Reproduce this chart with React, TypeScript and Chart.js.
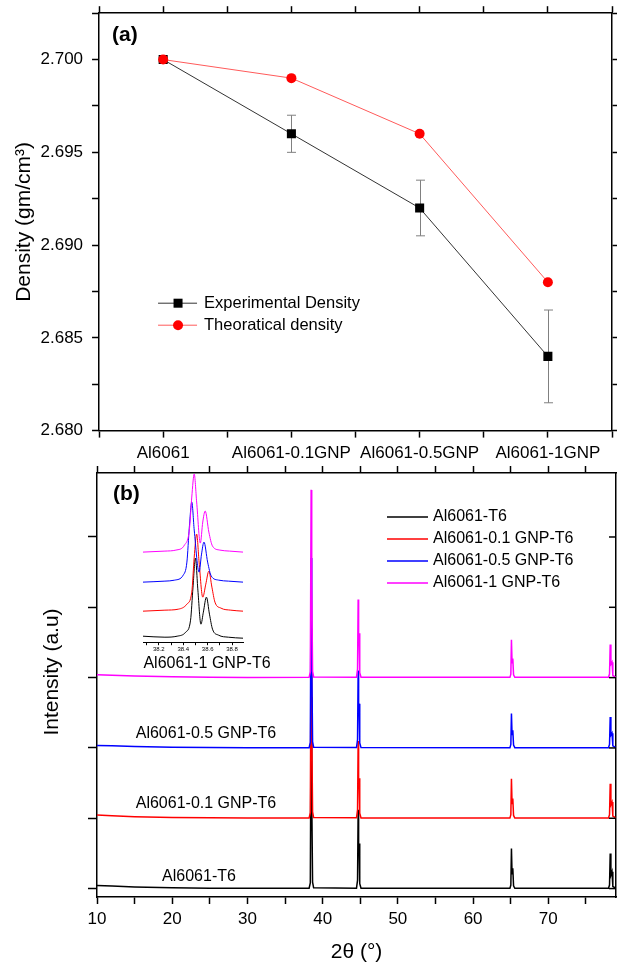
import React, { useEffect, useRef } from 'react';
import { Chart, registerables } from 'chart.js';

Chart.register(...registerables);

const FONT = "'Liberation Sans', Arial, Helvetica, sans-serif";

// ---------- Panel (a): density ----------
const categories = ['Al6061', 'Al6061-0.1GNP', 'Al6061-0.5GNP', 'Al6061-1GNP'];
const experimentalDensity = [2.7, 2.696, 2.692, 2.684];
const experimentalError = [0, 0.001, 0.0015, 0.0025];
const theoreticalDensity = [2.7, 2.699, 2.696, 2.688];
const densityTickLabels = ['2.680', '2.685', '2.690', '2.695', '2.700'];

// ---------- Panel (b): XRD ----------
const xrdSeriesNames = ['Al6061-T6', 'Al6061-0.1 GNP-T6', 'Al6061-0.5 GNP-T6', 'Al6061-1 GNP-T6'];
const xrdColors = ['#000000', '#ff0000', '#0000ff', '#ff00ff'];
const twoTheta = [10, 12, 15, 20, 25, 30, 38.2, 38.36, 38.47, 38.52, 38.57, 38.66, 38.8, 44.5, 44.64, 44.72, 44.78, 44.84, 44.93, 45.1, 64.9, 65.02, 65.1, 65.18, 65.28, 65.38, 65.55, 78.0, 78.14, 78.23, 78.32, 78.47, 78.58, 79];
const intensityT6 = [0.045, 0.035, 0.022, 0.012, 0.006, 0.003, 0.004, 0.08, 2.72, 1.15, 1.35, 0.09, 0.01, 0.006, 0.12, 1.12, 0.5, 0.64, 0.07, 0.005, 0.004, 0.05, 0.57, 0.21, 0.29, 0.04, 0.004, 0.004, 0.05, 0.5, 0.19, 0.24, 0.03, 0.004];
const intensity01 = [1.045, 1.035, 1.022, 1.012, 1.006, 1.003, 1.004, 1.08, 3.7, 2.15, 2.35, 1.09, 1.01, 1.006, 1.12, 2.1, 1.5, 1.57, 1.07, 1.005, 1.004, 1.05, 1.56, 1.21, 1.28, 1.04, 1.004, 1.004, 1.05, 1.49, 1.19, 1.23, 1.03, 1.004];
const intensity05 = [2.035, 2.03, 2.02, 2.01, 2.006, 2.003, 2.004, 2.08, 4.7, 3.15, 3.35, 2.09, 2.01, 2.006, 2.12, 3.1, 2.5, 2.63, 2.07, 2.005, 2.004, 2.05, 2.49, 2.19, 2.25, 2.04, 2.004, 2.004, 2.05, 2.44, 2.18, 2.21, 2.03, 2.004];
const intensity1 = [3.04, 3.033, 3.022, 3.012, 3.006, 3.003, 3.004, 3.08, 5.67, 4.15, 4.35, 3.09, 3.01, 3.006, 3.12, 4.11, 3.5, 3.63, 3.07, 3.005, 3.004, 3.05, 3.54, 3.21, 3.27, 3.04, 3.004, 3.004, 3.05, 3.47, 3.19, 3.22, 3.03, 3.004];
const twoThetaTickLabels = ['10', '20', '30', '40', '50', '60', '70'];

// ---------- Inset ----------
const insetThetaT6 = [38.07, 38.25, 38.35, 38.42, 38.46, 38.48, 38.5, 38.52, 38.545, 38.565, 38.59, 38.615, 38.64, 38.69, 38.77, 38.89];
const insetT6 = [6, 5, 6, 10, 22, 55, 84, 52, 18, 30, 45, 28, 13, 7, 5, 4];
const insetTheta01 = [38.07, 38.25, 38.36, 38.43, 38.47, 38.49, 38.51, 38.53, 38.56, 38.585, 38.61, 38.635, 38.66, 38.71, 38.79, 38.89];
const inset01 = [31, 32, 33, 38, 50, 85, 108, 80, 45, 58, 71, 55, 40, 34, 32, 31];
const insetTheta05 = [38.07, 38.25, 38.33, 38.4, 38.43, 38.45, 38.47, 38.49, 38.53, 38.55, 38.57, 38.6, 38.63, 38.69, 38.77, 38.89];
const inset05 = [60, 61, 62, 67, 80, 115, 140, 112, 70, 88, 100, 80, 66, 62, 61, 60];
const insetTheta1 = [38.07, 38.25, 38.34, 38.41, 38.45, 38.47, 38.49, 38.51, 38.54, 38.56, 38.58, 38.61, 38.64, 38.7, 38.78, 38.89];
const inset1 = [90, 91, 92, 97, 112, 145, 168, 140, 99, 120, 131, 110, 96, 92, 91, 90];
const insetTickLabels = ['38.2', '38.4', '38.6', '38.8'];

const pair = (xs: number[], ys: number[]) => xs.map((x, i) => ({ x, y: ys[i] }));

const axisGrid = (len: number, w = 1.5) => ({
  display: true,
  drawOnChartArea: false,
  drawTicks: true,
  tickLength: len,
  tickWidth: w,
  tickColor: '#000',
  color: '#000',
});
const axisBorder = (w = 1.5) => ({ display: true, color: '#000', width: w });

const panelAPlugin = {
  id: 'panelA',
  beforeDatasetsDraw(chart: any) {
    const { ctx, scales } = chart;
    const x = scales.x, y = scales.y;
    ctx.save();
    ctx.strokeStyle = '#808080';
    ctx.lineWidth = 1;
    experimentalDensity.forEach((v, i) => {
      const e = experimentalError[i];
      if (!e) return;
      const px = Math.round(x.getPixelForValue(i)) + 0.5;
      const top = y.getPixelForValue(v + e);
      const bot = y.getPixelForValue(v - e);
      ctx.beginPath();
      ctx.moveTo(px, top); ctx.lineTo(px, bot);
      ctx.moveTo(px - 4.5, top); ctx.lineTo(px + 4.5, top);
      ctx.moveTo(px - 4.5, bot); ctx.lineTo(px + 4.5, bot);
      ctx.stroke();
    });
    ctx.restore();
  },
  afterDraw(chart: any) {
    const { ctx, chartArea: ca } = chart;
    ctx.save();
    ctx.fillStyle = '#000';
    ctx.textBaseline = 'middle';
    ctx.font = `bold 21px ${FONT}`;
    ctx.fillText('(a)', ca.left + 13, ca.top + 22);
    // legend
    const lx0 = ca.left + 59, lx1 = ca.left + 98, mx = ca.left + 79, tx = ca.left + 105;
    const y1 = ca.top + 290, y2 = ca.top + 312;
    ctx.lineWidth = 1;
    ctx.strokeStyle = '#333';
    ctx.beginPath(); ctx.moveTo(lx0, y1); ctx.lineTo(lx1, y1); ctx.stroke();
    ctx.fillStyle = '#000';
    ctx.fillRect(mx - 4.5, y1 - 4.5, 9, 9);
    ctx.strokeStyle = '#ff5a5a';
    ctx.beginPath(); ctx.moveTo(lx0, y2); ctx.lineTo(lx1, y2); ctx.stroke();
    ctx.fillStyle = '#ff0000';
    ctx.beginPath(); ctx.arc(mx, y2, 5, 0, Math.PI * 2); ctx.fill();
    ctx.fillStyle = '#000';
    ctx.font = `16.5px ${FONT}`;
    ctx.fillText('Experimental Density', tx, y1);
    ctx.fillText('Theoratical density', tx, y2);
    ctx.restore();
  },
};

const panelBPlugin = {
  id: 'panelB',
  afterDraw(chart: any) {
    const { ctx, chartArea: ca, scales } = chart;
    const y = scales.y;
    ctx.save();
    // inward ticks on the right axis
    ctx.strokeStyle = '#000';
    ctx.lineWidth = 1.5;
    y.ticks.forEach((t: any) => {
      const py = y.getPixelForValue(t.value);
      ctx.beginPath(); ctx.moveTo(ca.right, py); ctx.lineTo(ca.right - 7, py); ctx.stroke();
    });
    ctx.fillStyle = '#000';
    ctx.textBaseline = 'middle';
    ctx.font = `bold 21px ${FONT}`;
    ctx.fillText('(b)', ca.left + 16, ca.top + 21);
    // legend
    ctx.font = `16px ${FONT}`;
    xrdSeriesNames.forEach((name, i) => {
      const ly = ca.top + 44 + i * 22;
      ctx.strokeStyle = xrdColors[i];
      ctx.lineWidth = 1.5;
      ctx.beginPath(); ctx.moveTo(ca.left + 290, ly); ctx.lineTo(ca.left + 331, ly); ctx.stroke();
      ctx.fillStyle = '#000';
      ctx.textAlign = 'left';
      ctx.fillText(name, ca.left + 336, ly);
    });
    // curve labels
    const labelX = [ca.left + 102, ca.left + 109, ca.left + 109, ca.left + 110];
    const labelDy = [12, 15, 14, 14];
    ctx.textAlign = 'center';
    xrdSeriesNames.forEach((name, i) => {
      ctx.fillText(name, labelX[i], y.getPixelForValue(i) - labelDy[i]);
    });
    // y title
    ctx.font = `21px ${FONT}`;
    ctx.translate(ca.left - 45, ca.top + 199);
    ctx.rotate(-Math.PI / 2);
    ctx.fillText('Intensity (a.u)', 0, 0);
    ctx.restore();
  },
};

export default function App() {
  const aRef = useRef<HTMLCanvasElement>(null);
  const bRef = useRef<HTMLCanvasElement>(null);
  const iRef = useRef<HTMLCanvasElement>(null);

  useEffect(() => {
    Chart.defaults.font.family = FONT;
    Chart.defaults.color = '#000';

    const chartA = new Chart(aRef.current as HTMLCanvasElement, {
      type: 'line',
      data: {
        datasets: [
          {
            label: 'Experimental Density',
            data: categories.map((_, i) => ({ x: i, y: experimentalDensity[i] })),
            borderColor: '#333333',
            borderWidth: 1,
            pointStyle: 'rect',
            pointRadius: 6.4,
            pointBackgroundColor: '#000',
            pointBorderColor: '#000',
            pointBorderWidth: 0,
            tension: 0,
            order: 1,
          },
          {
            label: 'Theoratical density',
            data: categories.map((_, i) => ({ x: i, y: theoreticalDensity[i] })),
            borderColor: '#ff5a5a',
            borderWidth: 1,
            pointStyle: 'circle',
            pointRadius: 5,
            pointBackgroundColor: '#ff0000',
            pointBorderColor: '#ff0000',
            pointBorderWidth: 0,
            tension: 0,
            order: 0,
          },
        ],
      },
      options: {
        responsive: false,
        animation: false,
        devicePixelRatio: 1,
        layout: { padding: { left: 6.3, right: 5, top: 5, bottom: 0 } },
        plugins: { legend: { display: false }, tooltip: { enabled: false } },
        scales: {
          x: {
            type: 'linear',
            position: 'bottom',
            min: -0.5,
            max: 3.5,
            ticks: {
              stepSize: 0.5,
              includeBounds: false,
              autoSkip: false,
              maxRotation: 0,
              minRotation: 0,
              padding: 6,
              color: '#000',
              font: { size: 17 },
              callback: (v: any) => (Number.isInteger(Number(v)) ? categories[Number(v)] : ''),
            },
            grid: axisGrid(7),
            border: axisBorder(),
          },
          x2: {
            type: 'linear',
            position: 'top',
            min: -0.5,
            max: 3.5,
            ticks: { stepSize: 0.5, includeBounds: false, display: false },
            grid: axisGrid(7),
            border: axisBorder(),
          },
          y: {
            type: 'linear',
            position: 'left',
            min: 2.68,
            max: 2.7025,
            ticks: {
              stepSize: 0.0025,
              includeBounds: false,
              autoSkip: false,
              padding: 9,
              color: '#000',
              font: { size: 17 },
              callback: (v: any) => {
                const s = Number(v).toFixed(3);
                return densityTickLabels.includes(s) ? s : '';
              },
            },
            title: {
              display: true,
              text: 'Density (gm/cm³)',
              color: '#000',
              font: { size: 21 },
              padding: { top: 5, bottom: -5 },
            },
            grid: axisGrid(7),
            border: axisBorder(),
          },
          y2: {
            type: 'linear',
            position: 'right',
            min: 2.68,
            max: 2.7025,
            ticks: { stepSize: 0.0025, includeBounds: false, display: false },
            grid: axisGrid(5),
            border: axisBorder(),
          },
        },
      } as any,
      plugins: [panelAPlugin],
    });

    const xrdSets = [intensityT6, intensity01, intensity05, intensity1];
    const chartB = new Chart(bRef.current as HTMLCanvasElement, {
      type: 'line',
      data: {
        datasets: xrdSets.map((ys, i) => ({
          label: xrdSeriesNames[i],
          data: pair(twoTheta, ys),
          borderColor: xrdColors[i],
          borderWidth: 1.5,
          pointRadius: 0,
          tension: 0,
          order: 3 - i,
        })),
      },
      options: {
        responsive: false,
        animation: false,
        devicePixelRatio: 1,
        layout: { padding: { left: 88, right: 7, top: 4, bottom: 0 } },
        plugins: { legend: { display: false }, tooltip: { enabled: false } },
        scales: {
          x: {
            type: 'linear',
            position: 'bottom',
            min: 10,
            max: 79,
            ticks: {
              stepSize: 5,
              includeBounds: false,
              autoSkip: false,
              maxRotation: 0,
              minRotation: 0,
              padding: 5,
              color: '#000',
              font: { size: 17 },
              callback: (v: any) => {
                const n = Number(v);
                const s = String(Math.round(n));
                return Math.abs(n - Math.round(n)) < 1e-6 && twoThetaTickLabels.includes(s) ? s : '';
              },
            },
            title: {
              display: true,
              text: '2θ (°)',
              color: '#000',
              font: { size: 21 },
              padding: { top: 5, bottom: 2.4 },
            },
            grid: axisGrid(7),
            border: axisBorder(),
          },
          x2: {
            type: 'linear',
            position: 'top',
            min: 10,
            max: 79,
            ticks: { stepSize: 5, includeBounds: false, display: false },
            grid: axisGrid(7),
            border: axisBorder(),
          },
          y: {
            type: 'linear',
            position: 'left',
            min: -0.12,
            max: 5.91,
            ticks: { stepSize: 1, includeBounds: false, display: false },
            grid: axisGrid(9),
            border: axisBorder(),
          },
          y2: {
            type: 'linear',
            position: 'right',
            min: -0.12,
            max: 5.91,
            ticks: { display: false },
            grid: { display: false },
            border: axisBorder(),
          },
        },
      } as any,
      plugins: [panelBPlugin],
    });

    const insetSets = [
      pair(insetThetaT6, insetT6),
      pair(insetTheta01, inset01),
      pair(insetTheta05, inset05),
      pair(insetTheta1, inset1),
    ];
    const chartI = new Chart(iRef.current as HTMLCanvasElement, {
      type: 'line',
      data: {
        datasets: insetSets.map((d, i) => ({
          label: xrdSeriesNames[i],
          data: d,
          borderColor: xrdColors[i],
          borderWidth: 1,
          pointRadius: 0,
          cubicInterpolationMode: 'monotone',
          order: 3 - i,
        })),
      },
      options: {
        responsive: false,
        animation: false,
        devicePixelRatio: 1,
        layout: { padding: { left: 18, right: 12, top: 8, bottom: 12.6 } },
        plugins: { legend: { display: false }, tooltip: { enabled: false } },
        scales: {
          x: {
            type: 'linear',
            position: 'bottom',
            min: 38.07,
            max: 38.89,
            ticks: {
              stepSize: 0.1,
              includeBounds: false,
              autoSkip: false,
              maxRotation: 0,
              minRotation: 0,
              padding: 1,
              color: '#000',
              font: { size: 6 },
              callback: (v: any) => {
                const s = Number(v).toFixed(1);
                return insetTickLabels.includes(s) ? s : '';
              },
            },
            grid: axisGrid(3, 1),
            border: axisBorder(1),
          },
          y: { type: 'linear', display: false, min: 0, max: 172 },
        },
      } as any,
    });

    return () => {
      chartA.destroy();
      chartB.destroy();
      chartI.destroy();
    };
  }, []);

  return (
    <div style={{ position: 'absolute', left: 0, top: 0, width: 617, height: 967, overflow: 'hidden', background: '#fff' }}>
      <canvas ref={aRef} width={622} height={476} style={{ position: 'absolute', left: 0, top: -6 }} />
      <canvas ref={bRef} width={631} height={505} style={{ position: 'absolute', left: 0, top: 462 }} />
      <canvas ref={iRef} width={130} height={205} style={{ position: 'absolute', left: 125, top: 462 }} />
    </div>
  );
}
